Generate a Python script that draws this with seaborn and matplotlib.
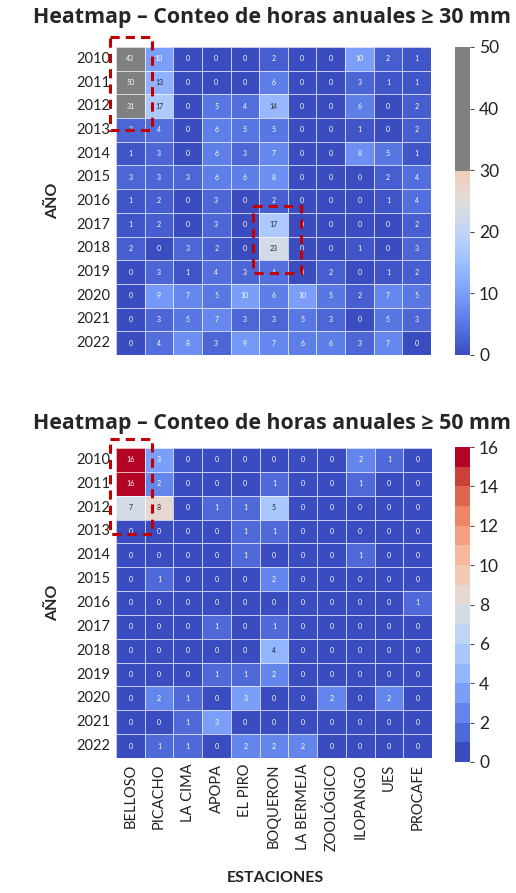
import numpy as np
import pandas as pd
import matplotlib
matplotlib.use("Agg")
import matplotlib.pyplot as plt
from matplotlib.colors import ListedColormap
from matplotlib.patches import Rectangle
import seaborn as sns

sns.set_theme(style="white")
plt.rcParams['font.family'] = ['Lato', 'DejaVu Sans']

estaciones = ["BELLOSO", "PICACHO", "LA CIMA", "APOPA", "EL PIRO", "BOQUERON",
              "LA BERMEJA", "ZOOLÓGICO", "ILOPANGO", "UES", "PROCAFE"]
anios = list(range(2010, 2023))

# Yearly count of hours with rainfall >= 30 mm, per station
horas_30 = [
    [43, 10, 0, 0, 0, 2, 0, 0, 10, 2, 1],
    [50, 13, 0, 0, 0, 6, 0, 0, 3, 1, 1],
    [31, 17, 0, 5, 4, 14, 0, 0, 6, 0, 2],
    [3, 4, 0, 6, 5, 5, 0, 0, 1, 0, 2],
    [1, 3, 0, 6, 3, 7, 0, 0, 8, 5, 1],
    [3, 3, 3, 6, 6, 8, 0, 0, 0, 2, 4],
    [1, 2, 0, 3, 0, 2, 0, 0, 0, 1, 4],
    [1, 2, 0, 3, 0, 17, 0, 0, 0, 0, 2],
    [2, 0, 3, 2, 0, 23, 0, 0, 1, 0, 3],
    [0, 3, 1, 4, 3, 4, 0, 2, 0, 1, 2],
    [0, 9, 7, 5, 10, 6, 10, 5, 2, 7, 5],
    [0, 3, 5, 7, 3, 3, 5, 3, 0, 5, 3],
    [0, 4, 8, 3, 9, 7, 6, 6, 3, 7, 0],
]

# Yearly count of hours with rainfall >= 50 mm, per station
horas_50 = [
    [16, 3, 0, 0, 0, 0, 0, 0, 2, 1, 0],
    [16, 2, 0, 0, 0, 1, 0, 0, 1, 0, 0],
    [7, 8, 0, 1, 1, 5, 0, 0, 0, 0, 0],
    [0, 0, 0, 0, 1, 1, 0, 0, 0, 0, 0],
    [0, 0, 0, 0, 1, 0, 0, 0, 1, 0, 0],
    [0, 1, 0, 0, 0, 2, 0, 0, 0, 0, 0],
    [0, 0, 0, 0, 0, 0, 0, 0, 0, 0, 1],
    [0, 0, 0, 1, 0, 1, 0, 0, 0, 0, 0],
    [0, 0, 0, 0, 0, 4, 0, 0, 0, 0, 0],
    [0, 0, 0, 1, 1, 2, 0, 0, 0, 0, 0],
    [0, 2, 1, 0, 3, 0, 0, 2, 0, 2, 0],
    [0, 0, 1, 3, 0, 0, 0, 0, 0, 0, 0],
    [0, 1, 1, 0, 2, 2, 2, 0, 0, 0, 0],
]

df30 = pd.DataFrame(horas_30, index=anios, columns=estaciones)
df50 = pd.DataFrame(horas_50, index=anios, columns=estaciones)

# Colormap for >= 30 mm: coolwarm up to 30, flat gray above
base = plt.get_cmap("coolwarm")
n_low = int(256 * 0.6)
cols = list(base(np.linspace(0, 0.6, n_low))) + [(0.5, 0.5, 0.5, 1.0)] * (256 - n_low)
cmap30 = ListedColormap(cols)

# Discrete coolwarm (16 steps, full range) for >= 50 mm
cmap50 = ListedColormap(base(np.linspace(0, 1, 16)))

fig = plt.figure(figsize=(5.16, 8.93), dpi=100)

ax1 = fig.add_axes([0.2248, 0.6025, 0.6105, 0.3449])
cax1 = fig.add_axes([0.8818, 0.6025, 0.029, 0.3449])
ax2 = fig.add_axes([0.2248, 0.1512, 0.6125, 0.3471])
cax2 = fig.add_axes([0.8818, 0.1467, 0.029, 0.3527])

annot_kw = dict(fontsize=5)
sns.heatmap(df30, ax=ax1, cbar_ax=cax1, cmap=cmap30, vmin=0, vmax=50,
            annot=True, fmt="d", annot_kws=annot_kw,
            linewidths=0.6, linecolor=(1, 1, 1, 0.7), xticklabels=False)
sns.heatmap(df50, ax=ax2, cbar_ax=cax2, cmap=cmap50, vmin=0, vmax=16,
            annot=True, fmt="d", annot_kws=annot_kw,
            linewidths=0.6, linecolor=(1, 1, 1, 0.7))

title_kw = dict(fontsize=15.4, fontweight="bold", family=["Open Sans", "DejaVu Sans"])
fig.text(0.528, 0.980, "Heatmap – Conteo de horas anuales ≥ 30 mm", ha="center", va="center", **title_kw)
fig.text(0.528, 0.526, "Heatmap – Conteo de horas anuales ≥ 50 mm", ha="center", va="center", **title_kw)

for ax in (ax1, ax2):
    ax.set_ylabel("AÑO", fontsize=11.5, fontweight="bold", labelpad=12)
    ax.set_xlabel("")
    ax.tick_params(axis="y", labelsize=10.5, rotation=0, length=2, pad=2, colors="#222222")
ax2.tick_params(axis="x", labelsize=10.5, rotation=90, length=0, pad=4, labelcolor="#222222")
fig.text(0.533, 0.0165, "ESTACIONES", ha="center", va="center",
         fontsize=11.5, fontweight="bold", color="#222222")

for cax, ticks in ((cax1, [0, 10, 20, 30, 40, 50]), (cax2, list(range(0, 17, 2)))):
    cax.set_yticks(ticks)
    cax.tick_params(labelsize=12.5, length=3, width=0.6, colors="#222222")
    for s in cax.spines.values():
        s.set_visible(False)

# Highlight boxes around notable cells
box_kw = dict(fill=False, edgecolor="#c00000", linewidth=2.2, linestyle=(0, (3, 2)), clip_on=False, zorder=5)
ax1.add_patch(Rectangle((-0.21, -0.42), 1.47, 3.92, **box_kw))
ax1.add_patch(Rectangle((4.79, 6.7), 1.68, 2.84, **box_kw))
ax2.add_patch(Rectangle((-0.21, -0.38), 1.47, 3.98, **box_kw))

fig.savefig("out.png", dpi=100, facecolor="white")
